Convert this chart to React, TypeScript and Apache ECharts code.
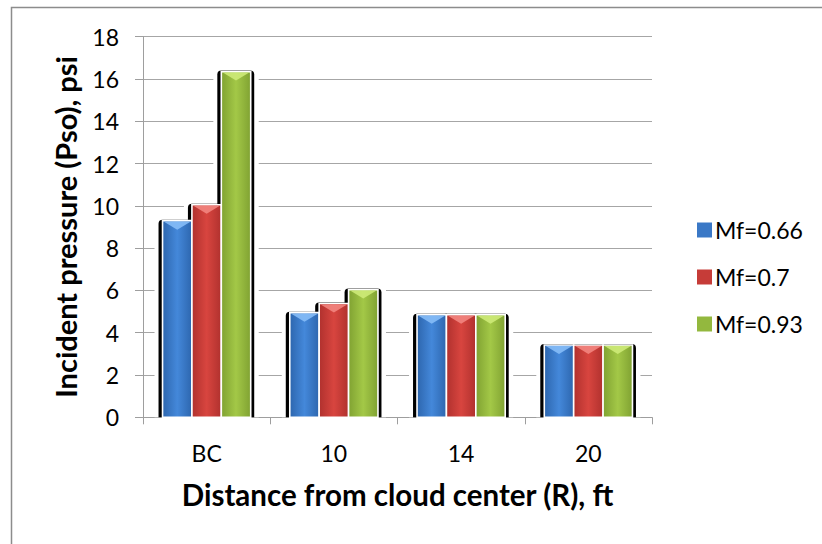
import React, { useEffect, useRef } from "react";
import * as echarts from "echarts";

const categories = ["BC", "10", "14", "20"];
const seriesNames = ["Mf=0.66", "Mf=0.7", "Mf=0.93"];
const mf066 = [9.3, 4.95, 4.85, 3.42];
const mf07 = [10.05, 5.38, 4.85, 3.42];
const mf093 = [16.35, 6.04, 4.85, 3.42];
const yTicks = { min: 0, max: 18, interval: 2 };

const palettes = [
  { edge: "#2D66AE", mid: "#4488DA", bevel: "#86BDF7", legend: "#3A78C6" },
  { edge: "#B0312E", mid: "#D8453F", bevel: "#F28580", legend: "#C63C38" },
  { edge: "#80A232", mid: "#A3C847", bevel: "#CDEA78", legend: "#93B83E" },
];

const FONT = "Lato, 'Open Sans', sans-serif";

export default function App() {
  const ref = useRef<HTMLDivElement>(null);
  useEffect(() => {
    if (!ref.current) return;
    const chart = echarts.init(ref.current, null, { renderer: "svg" });
    const allValues = [mf066, mf07, mf093];

    const makeRender = (k: number) => (params: any, api: any) => {
      const i = api.value(0);
      const v = api.value(1);
      const c = api.coord([i, v]);
      const base = api.coord([i, 0]);
      const catW = api.size([1, 0])[0];
      const pitch = catW * 0.231;
      const x = c[0] - 1.5 * pitch + k * pitch;
      const top = c[1];
      const h = base[1] - top;
      const p = palettes[k];
      return {
        type: "group",
        children: [
          {
            type: "rect",
            z2: 0,
            shape: { x: x - 8, y: top - 4, width: pitch + 16, height: h + 4 },
            style: { fill: "#ffffff" },
          },
          {
            type: "rect",
            z2: 1,
            shape: { x: x - 4, y: top - 1, width: pitch + 7.5, height: h + 1, r: [4, 4, 0, 0] },
            style: { fill: "#000000" },
          },
          {
            type: "rect",
            z2: 2,
            shape: { x: x, y: top, width: pitch, height: h },
            style: {
              fill: {
                type: "linear",
                x: 0,
                y: 0,
                x2: 1,
                y2: 0,
                colorStops: [
                  { offset: 0, color: p.edge },
                  { offset: 0.5, color: p.mid },
                  { offset: 1, color: p.edge },
                ],
              },
              stroke: "#ffffff",
              lineWidth: 1.6,
            },
          },
          {
            type: "polygon",
            z2: 3,
            shape: {
              points: [
                [x + 1.5, top + 1],
                [x + pitch - 1.5, top + 1],
                [x + pitch / 2, top + 9],
              ],
            },
            style: { fill: p.bevel, opacity: 0.9 },
          },
        ],
      };
    };

    chart.setOption({
      animation: false,
      backgroundColor: "#ffffff",
      textStyle: { fontFamily: FONT },
      graphic: [
        {
          type: "rect",
          shape: { x: 11.5, y: 7.5, width: 900, height: 600 },
          style: { fill: "none", stroke: "#8c8c8c", lineWidth: 1.5 },
          silent: true,
          z: -1,
        },
      ],
      grid: { left: 143, right: 170, top: 36.7, bottom: 126.7 },
      legend: {
        orient: "vertical",
        left: 692,
        top: 213,
        itemWidth: 15,
        itemHeight: 15,
        itemGap: 23,
        icon: "rect",
        data: seriesNames,
        textStyle: { fontFamily: FONT, fontSize: 23, color: "#000", lineHeight: 24, padding: [0, 0, 0, -2] },
      },
      xAxis: {
        type: "category",
        data: categories,
        name: "Distance from cloud center (R), ft",
        nameLocation: "middle",
        nameGap: 62,
        nameTextStyle: { fontFamily: FONT, fontSize: 29.5, fontWeight: "bold", color: "#000" },
        axisLine: { lineStyle: { color: "#9e9e9e", width: 1 } },
        axisTick: { show: true, length: 7, lineStyle: { color: "#9e9e9e" } },
        axisLabel: { margin: 24, fontSize: 23, color: "#000", fontFamily: FONT },
        splitLine: { show: false },
      },
      yAxis: {
        type: "value",
        min: yTicks.min,
        max: yTicks.max,
        interval: yTicks.interval,
        name: "Incident pressure (Pso), psi",
        nameLocation: "middle",
        nameGap: 63,
        nameTextStyle: { fontFamily: FONT, fontSize: 29, fontWeight: "bold", color: "#000" },
        axisLine: { show: true, lineStyle: { color: "#9e9e9e", width: 1 } },
        axisTick: { show: true, length: 8, lineStyle: { color: "#9e9e9e" } },
        axisLabel: { margin: 24, fontSize: 23, color: "#000", fontFamily: FONT },
        splitLine: { show: true, lineStyle: { color: "#a6a6a6", width: 1.2 } },
      },
      series: seriesNames.map((name, k) => ({
        type: "custom",
        name,
        itemStyle: { color: palettes[k].legend },
        encode: { x: 0, y: 1 },
        data: allValues[k].map((v, i) => [i, v]),
        renderItem: makeRender(k),
      })),
    });
    return () => chart.dispose();
  }, []);
  return (
    <div
      ref={ref}
      style={{ position: "absolute", left: 0, top: 0, width: 822, height: 544 }}
    />
  );
}
